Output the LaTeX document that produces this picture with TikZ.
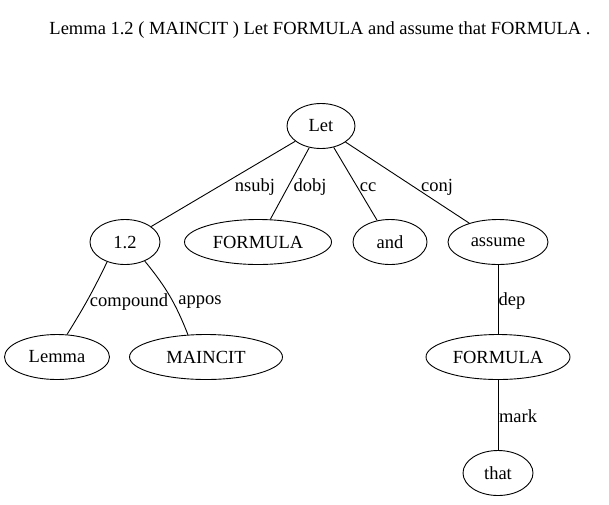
\documentclass[tikz,border=0pt]{standalone}
\usepackage{fontspec}
\setmainfont{Liberation Serif}
\usetikzlibrary{shapes.geometric}
\begin{document}
\begin{tikzpicture}[x=1pt,y=-1pt,
  every node/.style={font=\fontsize{18.5}{21}\selectfont},
  tok/.style={draw,ellipse,line width=0.9pt,minimum height=45pt,inner sep=0pt},
  lab/.style={inner sep=0pt},
  edge/.style={line width=0.9pt}]
\useasboundingbox (0,0) rectangle (609,504);
\node[lab] (title) at (320,30) {Lemma 1.2 ( MAINCIT ) Let FORMULA and assume that FORMULA .};
\node[tok,minimum width=68pt] (let) at (321,126) {Let};
\node[tok,minimum width=70pt] (n12) at (125,242) {1.2};
\node[tok,minimum width=147pt] (formula1) at (258,242) {FORMULA};
\node[tok,minimum width=74pt] (and) at (390,242) {and};
\node[tok,minimum width=100pt] (assume) at (498,242) {assume};
\node[tok,minimum width=105pt] (lemma) at (57,357) {Lemma};
\node[tok,minimum width=153pt] (maincit) at (206,357) {MAINCIT};
\node[tok,minimum width=144pt] (formula2) at (498,357) {FORMULA};
\node[tok,minimum width=70pt] (that) at (498,473) {that};
\draw[edge] (let) -- (n12);
\draw[edge] (let) -- (formula1);
\draw[edge] (let) -- (and);
\draw[edge] (let) -- (assume);
\draw[edge] (n12.228) to[bend left=3] (lemma.66);
\draw[edge] (n12.316) to[bend left=9] (maincit.129);
\draw[edge] (assume) -- (formula2);
\draw[edge] (formula2) -- (that);
\node[lab] (lnsubj) at (255,187) {nsubj};
\node[lab] (ldobj) at (310,187) {dobj};
\node[lab] (lcc) at (368,187) {cc};
\node[lab] (lconj) at (437,187) {conj};
\node[lab] (lcompound) at (129,302) {compound};
\node[lab] (lappos) at (200,302) {appos};
\node[lab] (ldep) at (512,301) {dep};
\node[lab] (lmark) at (518,416) {mark};
\end{tikzpicture}
\end{document}
